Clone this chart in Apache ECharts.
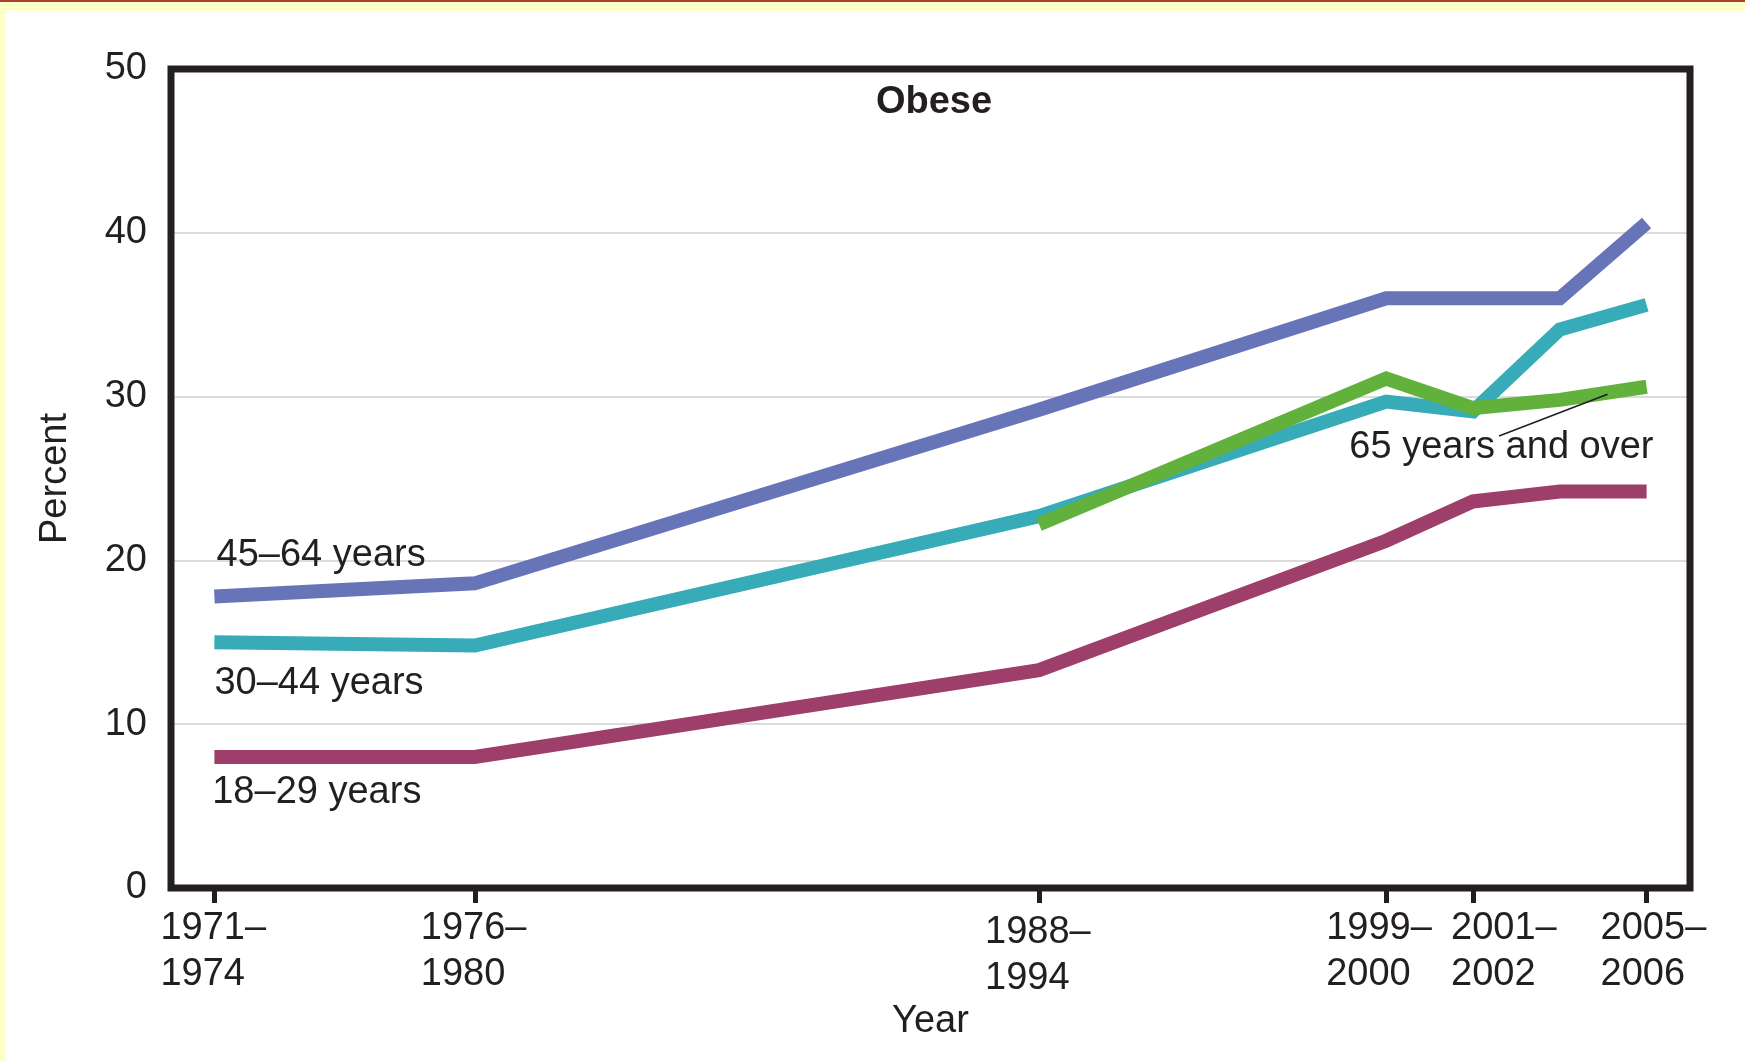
<!DOCTYPE html>
<html><head><meta charset="utf-8">
<script src="https://cdn.jsdelivr.net/npm/echarts@6/dist/echarts.min.js"></script>
<style>html,body{margin:0;padding:0;background:#fff;overflow:hidden}#c{width:1745px;height:1061px}</style>
</head><body><div id="c"></div>
<script>
// ---- data ----
const periodX = [1972.5, 1978.5, 1991.5, 1999.5, 2001.5, 2003.5, 2005.5];
const tickX = [1972.5, 1978.5, 1991.5, 1999.5, 2001.5, 2005.5];
const tickLine1 = ['1971–', '1976–', '1988–', '1999–', '2001–', '2005–'];
const tickLine2 = ['1974', '1980', '1994', '2000', '2002', '2006'];
const yTicks = [0, 10, 20, 30, 40, 50];
const age45_64 = [17.8, 18.6, 29.2, 36.0, 36.0, 36.0, 40.6];
const age30_44 = [15.0, 14.8, 22.7, 29.7, 29.1, 34.1, 35.6];
const age65plus = [null, null, 22.2, 31.1, 29.3, 29.8, 30.6];
const age18_29 = [8.0, 8.0, 13.3, 21.2, 23.6, 24.2, 24.2];
const seriesNames = ['45–64 years', '30–44 years', '65 years and over', '18–29 years'];

const FONT = '"Liberation Sans", Arial, Helvetica, sans-serif';
const TXT = '#231f20';
const colors = ['#6874b8', '#37abb7', '#63b13d', '#9d3f6a'];
const seriesData = [age45_64, age30_44, age65plus, age18_29];
// layout nudges for tick label blocks: horizontal shift (px) and line style keys
const tickShift = [0, 0, 0, -6, 32, 8];
const tickRich1 = ['a', 'a', 'c1', 'a', 'a', 'a'];
const tickRich2 = ['a', 'a', 'c2', 'a', 'a', 'a'];

function pairs(arr) { return arr.map((v, i) => [periodX[i], v]); }

const chart = echarts.init(document.getElementById('c'), null, { renderer: 'canvas' });

const base = { fontFamily: FONT, fontSize: 38, color: TXT, lineHeight: 46, width: 108, align: 'left' };
const rich = {
  a: base,
  c1: Object.assign({}, base, { lineHeight: 54 }),
  c2: Object.assign({}, base, { lineHeight: 38 })
};
[12, 16, 64].forEach(w => { rich['sp' + w] = { width: w, fontSize: 10, lineHeight: 46, align: 'left' }; });

function tickLine(text, key, shift) {
  const core = '{' + key + '|' + text + '}';
  if (shift > 0) return '{sp' + (2 * shift) + '| }' + core;
  if (shift < 0) return core + '{sp' + (-2 * shift) + '| }';
  return core;
}

const option = {
  backgroundColor: '#ffffff',
  animation: false,
  title: {
    text: 'Obese', left: 929, top: 79, textAlign: 'center',
    textStyle: { fontFamily: FONT, fontSize: 38, fontWeight: 'bold', color: TXT }
  },
  grid: { left: 171, right: 55, top: 69, bottom: 173, show: false },
  xAxis: {
    type: 'value', min: 1971.5, max: 2006.5,
    name: 'Year', nameLocation: 'middle', nameGap: 115,
    nameTextStyle: { fontFamily: FONT, fontSize: 38, color: TXT },
    axisLine: { show: false },
    splitLine: { show: false },
    axisTick: { show: true, customValues: tickX, length: 15, lineStyle: { color: TXT, width: 5 } },
    axisLabel: {
      customValues: tickX, margin: 18, color: TXT, fontFamily: FONT, fontSize: 38,
      hideOverlap: false, showMinLabel: true, showMaxLabel: true,
      formatter: function (v) {
        const i = tickX.indexOf(v);
        if (i < 0) return '';
        return tickLine(tickLine1[i], tickRich1[i], tickShift[i]) + '\n' +
               tickLine(tickLine2[i], tickRich2[i], tickShift[i]);
      },
      rich: rich
    }
  },
  yAxis: {
    type: 'value', min: 0, max: 50, interval: 10,
    name: 'Percent', nameLocation: 'middle', nameGap: 96,
    nameTextStyle: { fontFamily: FONT, fontSize: 38, color: TXT },
    axisLine: { show: false }, axisTick: { show: false },
    axisLabel: { margin: 24, color: TXT, fontFamily: FONT, fontSize: 38,
      formatter: v => yTicks.includes(v) ? String(v) : '' },
    splitLine: { show: true, lineStyle: { color: '#dcdcdc', width: 2 } }
  },
  series: seriesData.map((d, i) => ({
    name: seriesNames[i], type: 'line', data: pairs(d), showSymbol: false, symbol: 'none',
    connectNulls: false, z: 3 + i,
    lineStyle: { color: colors[i], width: 14, cap: 'butt', join: 'miter' }
  }))
};
chart.setOption(option);

// annotations placed in data coordinates, converted to pixels
const annText = [
  { t: '45–64 years', at: [1972.55, 20.3] },
  { t: '30–44 years', at: [1972.5, 12.5] },
  { t: '18–29 years', at: [1972.45, 5.8] },
  { t: '65 years and over', at: [1998.65, 26.9] }
];
const leader = [[2002.1, 27.6], [2004.6, 30.15]];
const px = p => chart.convertToPixel({ gridIndex: 0 }, p);
const c0 = px([1971.5, 0]), c1 = px([2006.5, 50]);
const graphics = [
  { type: 'rect', z: 60, shape: { x: c0[0], y: c1[1], width: c1[0] - c0[0], height: c0[1] - c1[1] },
    style: { fill: 'none', stroke: TXT, lineWidth: 7, lineJoin: 'miter' } },
  { type: 'rect', shape: { x: 0, y: 0, width: 1745, height: 11 }, style: { fill: '#ffffc8' }, z: 100 },
  { type: 'rect', shape: { x: 0, y: 0, width: 6, height: 1061 }, style: { fill: '#ffffc8' }, z: 100 },
  { type: 'rect', shape: { x: 0, y: 0, width: 1745, height: 2 }, style: { fill: '#a8412e' }, z: 101 }
];
annText.forEach(a => {
  const p = px(a.at);
  graphics.push({ type: 'text', x: p[0], y: p[1], z: 50,
    style: { text: a.t, font: '38px ' + FONT, fill: TXT, textAlign: 'left', textVerticalAlign: 'middle' } });
});
const l0 = px(leader[0]), l1 = px(leader[1]);
graphics.push({ type: 'line', z: 51, shape: { x1: l0[0], y1: l0[1], x2: l1[0], y2: l1[1] },
  style: { stroke: TXT, lineWidth: 1.6 } });
chart.setOption({ graphic: graphics });
</script></body></html>
